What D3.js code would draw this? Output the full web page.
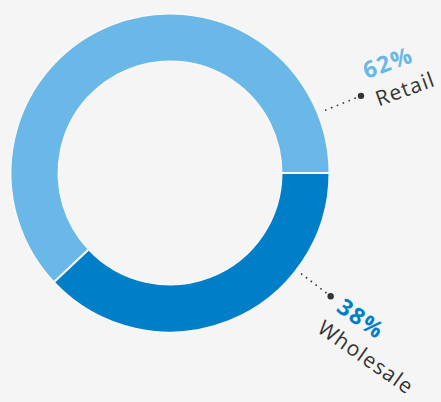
<!DOCTYPE html>
<html>
<head>
<meta charset="utf-8">
<script src="https://cdn.jsdelivr.net/npm/d3@7"></script>
<style>
    html, body { margin: 0; padding: 0; background: #f5f5f5; }
    svg { display: block; }
    .pct { font-family: "Open Sans", sans-serif; font-weight: 700; letter-spacing: 1.5px; }
    .name { font-family: "Open Sans", sans-serif; font-weight: 400; fill: #333333; letter-spacing: 1.2px; }
</style>
</head>
<body>
<svg class="chart"></svg>
<script>
// data
var categories = ["Wholesale", "Retail"];
var shares = [38, 62];
var shareLabels = ["38%", "62%"];
var sliceColors = ["#007ec8", "#69b8e7"];

var width = 441, height = 402;
var center = {x: 170, y: 173};
var outerRadius = 159.5, innerRadius = 111.5;

// label layout per category: leader angle (deg) and radii, text rotation (deg), offsets in rotated frame
var labelLayout = {
    "Wholesale": {leaderAngle: 37.5, r0: 166, r1: 202.5, rotate: 35, pct: {x: 12, y: 9}, name: {x: 8, y: 37}},
    "Retail": {leaderAngle: -22, r0: 168, r1: 206, rotate: -20, pct: {x: 11, y: -14}, name: {x: 13, y: 16}}
};

var slices = categories.map(function(name, i) {
    return {name: name, value: shares[i], label: shareLabels[i], color: sliceColors[i]};
});

var svg = d3.select(".chart")
        .attr("width", width)
        .attr("height", height);

var chart = svg.append("g")
        .attr("transform", "translate(" + center.x + "," + center.y + ")");

var pie = d3.pie()
        .sort(null)
        .value(function(d) { return d.value; })
        .startAngle(Math.PI / 2)
        .endAngle(Math.PI / 2 + 2 * Math.PI);

var arc = d3.arc()
        .innerRadius(innerRadius)
        .outerRadius(outerRadius);

chart.selectAll(".slice")
        .data(pie(slices))
        .enter().append("path")
        .attr("class", "slice")
        .attr("d", arc)
        .attr("fill", function(d) { return d.data.color; })
        .attr("stroke", "#f7f7f7")
        .attr("stroke-width", 2);

function polar(r, deg) {
    var a = deg * Math.PI / 180;
    return [r * Math.cos(a), r * Math.sin(a)];
}

var label = chart.selectAll(".label")
        .data(slices)
        .enter().append("g")
        .attr("class", "label");

// dotted leader, end dot, rotated texts
label.each(function(d) {
    var lay = labelLayout[d.name];
    var g = d3.select(this);
    var p0 = polar(lay.r0, lay.leaderAngle);
    var p1 = polar(lay.r1, lay.leaderAngle);
    var dots = d3.range(0, 1.0001, 1 / 6);
    g.selectAll(".leaderDot")
            .data(dots.slice(0, dots.length - 1))
            .enter().append("circle")
            .attr("class", "leaderDot")
            .attr("cx", function(t) { return p0[0] + (p1[0] - p0[0]) * t; })
            .attr("cy", function(t) { return p0[1] + (p1[1] - p0[1]) * t; })
            .attr("r", 0.9)
            .attr("fill", "#333333");
    g.append("circle")
            .attr("cx", p1[0])
            .attr("cy", p1[1])
            .attr("r", 3.2)
            .attr("fill", "#333333");

    var t = g.append("g")
            .attr("transform", "translate(" + p1[0] + "," + p1[1] + ") rotate(" + lay.rotate + ")");
    t.append("text")
            .attr("class", "pct")
            .attr("x", lay.pct.x)
            .attr("y", lay.pct.y)
            .attr("fill", d.color)
            .style("font-size", "23px")
            .text(d.label);
    t.append("text")
            .attr("class", "name")
            .attr("x", lay.name.x)
            .attr("y", lay.name.y)
            .style("font-size", "21px")
            .text(d.name);
});
</script>
</body>
</html>
